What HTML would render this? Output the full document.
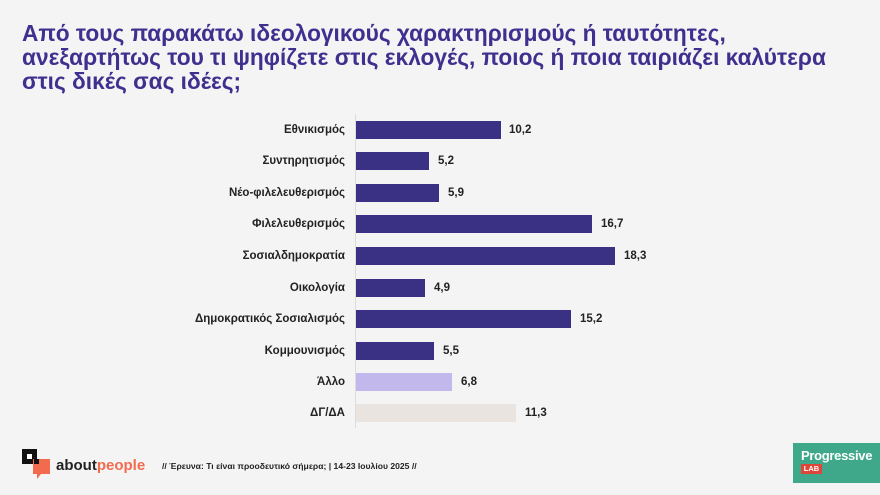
<!DOCTYPE html>
<html><head><meta charset="utf-8"><style>
body{margin:0;width:880px;height:495px;background:#f4f4f4;font-family:"Liberation Sans",sans-serif;position:relative;overflow:hidden}
.t{position:absolute;left:22px;top:21px;font-size:22.7px;line-height:24px;color:#3f2f8f;font-weight:bold;white-space:nowrap}
.lab{position:absolute;right:535px;font-size:11.5px;font-weight:bold;color:#222;text-align:right;white-space:nowrap}
.bar{position:absolute;left:356px;height:18px}
.v{position:absolute;font-size:11.5px;font-weight:bold;color:#222}
</style></head><body>
<div class="t">Από τους παρακάτω ιδεολογικούς χαρακτηρισμούς ή ταυτότητες,<br>ανεξαρτήτως του τι ψηφίζετε στις εκλογές, ποιος ή ποια ταιριάζει καλύτερα<br>στις δικές σας ιδέες;</div>
<div style="position:absolute;left:355px;top:114px;width:1px;height:314px;background:#dcdcdc"></div>

<div class="lab" style="top:124px">Εθνικισμός</div><div class="bar" style="top:121px;width:145px;background:#3b3184"></div><div class="v" style="left:509px;top:124px">10,2</div>
<div class="lab" style="top:155px">Συντηρητισμός</div><div class="bar" style="top:152px;width:73px;background:#3b3184"></div><div class="v" style="left:438px;top:155px">5,2</div>
<div class="lab" style="top:187px">Νέο-φιλελευθερισμός</div><div class="bar" style="top:184px;width:83px;background:#3b3184"></div><div class="v" style="left:448px;top:187px">5,9</div>
<div class="lab" style="top:218px">Φιλελευθερισμός</div><div class="bar" style="top:215px;width:236px;background:#3b3184"></div><div class="v" style="left:601px;top:218px">16,7</div>
<div class="lab" style="top:250px">Σοσιαλδημοκρατία</div><div class="bar" style="top:247px;width:259px;background:#3b3184"></div><div class="v" style="left:624px;top:250px">18,3</div>
<div class="lab" style="top:282px">Οικολογία</div><div class="bar" style="top:279px;width:69px;background:#3b3184"></div><div class="v" style="left:434px;top:282px">4,9</div>
<div class="lab" style="top:313px">Δημοκρατικός Σοσιαλισμός</div><div class="bar" style="top:310px;width:215px;background:#3b3184"></div><div class="v" style="left:580px;top:313px">15,2</div>
<div class="lab" style="top:345px">Κομμουνισμός</div><div class="bar" style="top:342px;width:78px;background:#3b3184"></div><div class="v" style="left:443px;top:345px">5,5</div>
<div class="lab" style="top:376px">Άλλο</div><div class="bar" style="top:373px;width:96px;background:#c2b8ec"></div><div class="v" style="left:461px;top:376px">6,8</div>
<div class="lab" style="top:407px">ΔΓ/ΔΑ</div><div class="bar" style="top:404px;width:160px;background:#e9e4df"></div><div class="v" style="left:525px;top:407px">11,3</div>

<div style="position:absolute;left:22px;top:449px;width:15px;height:15px;background:#111"></div>
<div style="position:absolute;left:27px;top:454px;width:5px;height:5px;background:#fff"></div>
<div style="position:absolute;left:33px;top:459px;width:17px;height:15px;background:#f26b4f"></div>
<div style="position:absolute;left:37px;top:474px;width:0;height:0;border-left:4px solid #f26b4f;border-bottom:5px solid transparent"></div>
<div style="position:absolute;left:34px;top:459px;width:5px;height:5px;background:#111"></div>
<div style="position:absolute;left:56px;top:457px;font-size:15px;font-weight:bold;color:#222">about<span style="color:#f26b4f">people</span></div>
<div style="position:absolute;left:162px;top:461px;font-size:8.6px;font-weight:bold;color:#222">// Έρευνα: Τι είναι προοδευτικό σήμερα; | 14-23 Ιουλίου 2025 //</div>

<div style="position:absolute;left:793px;top:443px;width:87px;height:40px;background:#40a88a"></div>
<div style="position:absolute;left:801px;top:448px;font-size:13px;font-weight:bold;color:#fff;letter-spacing:-0.3px">Progressive</div>
<div style="position:absolute;left:801px;top:464px;width:21px;height:10px;background:#e0453a;color:#fff;font-size:7.5px;font-weight:bold;line-height:10px;text-align:center">LAB</div>
</body></html>
